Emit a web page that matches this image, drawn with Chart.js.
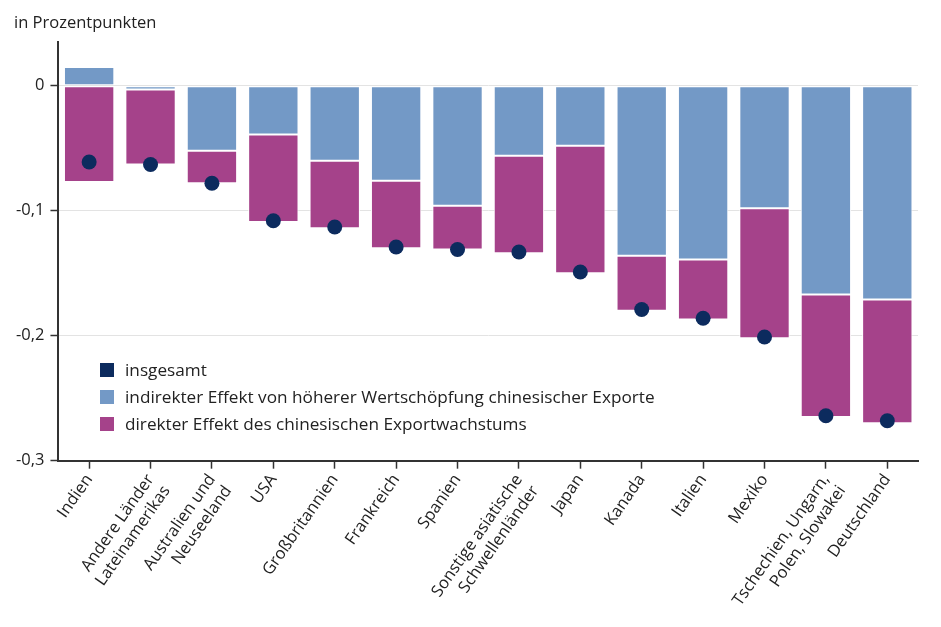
<!DOCTYPE html>
<html lang="de">
<head>
<meta charset="utf-8">
<script src="https://cdn.jsdelivr.net/npm/chart.js@4"></script>
<style>
  body { margin: 0; background: #fff; font-family: "Open Sans", sans-serif; }
  #wrap { position: relative; width: 941px; height: 627px; }
  #unit { position: absolute; left: 14px; top: 10px; font-size: 16.5px; color: #222; }
  #legend { position: absolute; left: 100px; top: 356px; font-size: 17.2px; color: #222; }
  #legend div { height: 27px; line-height: 22px; display: flex; align-items: center; }
  #legend span.box { display: inline-block; width: 14px; height: 14px; margin-right: 11px; }
</style>
</head>
<body>
<div id="wrap">
  <canvas id="chart" width="941" height="627"></canvas>
  <div id="unit">in Prozentpunkten</div>
  <div id="legend"></div>
</div>
<script>
const categories = [
  "Indien",
  ["Andere Länder", "Lateinamerikas"],
  ["Australien und", "Neuseeland"],
  "USA",
  "Großbritannien",
  "Frankreich",
  "Spanien",
  ["Sonstige asiatische", "Schwellenländer"],
  "Japan",
  "Kanada",
  "Italien",
  "Mexiko",
  ["Tschechien, Ungarn,", "Polen, Slowakei"],
  "Deutschland",
]

// indirekter Effekt (blau)
const indirekt = [0.015, -0.003, -0.052, -0.039, -0.060, -0.076, -0.096, -0.056, -0.048, -0.136, -0.139, -0.098, -0.167, -0.171]
// direkter Effekt (magenta)
const direkt = [-0.077, -0.060, -0.026, -0.070, -0.054, -0.054, -0.035, -0.078, -0.102, -0.044, -0.048, -0.104, -0.098, -0.099]
// insgesamt (Punkte)
const insgesamt = [-0.061, -0.063, -0.078, -0.108, -0.113, -0.129, -0.131, -0.133, -0.149, -0.179, -0.186, -0.201, -0.264, -0.268]

const yTicks = [0, -0.1, -0.2, -0.3]

const legendItems = [
  { label: "insgesamt", color: "#0c2b5e" },
  { label: "indirekter Effekt von höherer Wertschöpfung chinesischer Exporte", color: "#7399c6" },
  { label: "direkter Effekt des chinesischen Exportwachstums", color: "#a5428a" },
]

const legendEl = document.getElementById("legend")
legendItems.forEach((item) => {
  const row = document.createElement("div")
  row.innerHTML = `<span class="box" style="background:${item.color}"></span>${item.label}`
  legendEl.appendChild(row)
})

const font = { family: "'Open Sans', sans-serif", size: 16.5 }

new Chart(document.getElementById("chart").getContext("2d"), {
  type: "bar",
  data: {
    labels: categories,
    datasets: [
      {
        type: "line",
        label: "insgesamt",
        data: insgesamt,
        showLine: false,
        pointRadius: 7.5,
        pointHoverRadius: 7.5,
        pointBackgroundColor: "#0c2b5e",
        pointBorderWidth: 0,
        stack: "total",
        order: 0,
      },
      {
        label: "indirekter Effekt",
        data: indirekt,
        backgroundColor: "#7399c6",
        borderColor: "#fff",
        borderWidth: 1,
        borderSkipped: false,
        stack: "effekte",
        order: 1,
      },
      {
        label: "direkter Effekt",
        data: direkt,
        backgroundColor: "#a5428a",
        borderColor: "#fff",
        borderWidth: 1,
        borderSkipped: false,
        stack: "effekte",
        order: 1,
      },
    ],
  },
  options: {
    responsive: false,
    animation: false,
    layout: { padding: { top: 42, right: 23, left: 10, bottom: 4 } },
    barPercentage: 0.82,
    categoryPercentage: 1,
    plugins: {
      legend: { display: false },
      tooltip: { enabled: false },
    },
    scales: {
      x: {
        stacked: true,
        grid: {
          offset: false,
          drawOnChartArea: false,
          tickColor: "#333",
          tickLength: 8,
          tickWidth: 1.5,
        },
        border: { color: "#333", width: 2 },
        ticks: {
          color: "#222",
          font,
          minRotation: 55,
          maxRotation: 55,
          autoSkip: false,
          padding: 2,
        },
      },
      y: {
        stacked: true,
        min: -0.3,
        max: 0.035,
        afterBuildTicks: (axis) => {
          axis.ticks = yTicks.map((v) => ({ value: v }))
        },
        grid: {
          color: "#e3e3e3",
          tickColor: "#333",
          tickLength: 8,
          tickWidth: 1.5,
        },
        border: { color: "#333", width: 2 },
        ticks: {
          color: "#222",
          font,
          padding: 6,
          callback: (v) => String(Math.round(v * 10) / 10).replace(".", ","),
        },
      },
    },
  },
})
</script>
</body>
</html>
